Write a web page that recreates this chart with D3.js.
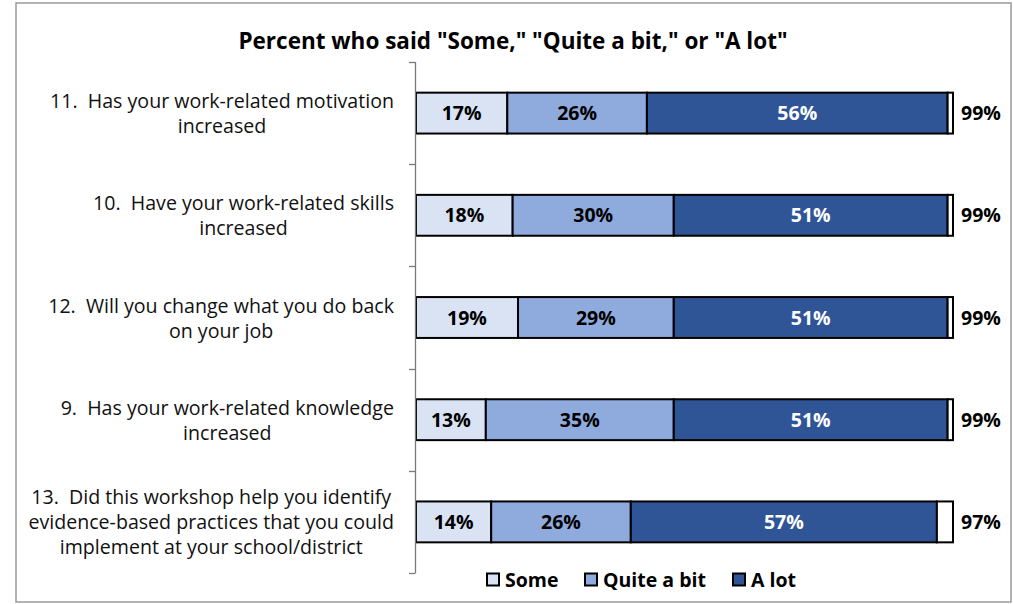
<!DOCTYPE html>
<html>
<head>
<meta charset="utf-8">
<script src="https://cdn.jsdelivr.net/npm/d3@7"></script>
<style>
  html, body { margin: 0; padding: 0; background: #fff; }
  svg { display: block; font-family: "Open Sans", "Noto Sans", sans-serif; }
  text { white-space: pre; }
</style>
</head>
<body>
<svg id="chart" width="1013" height="604"></svg>
<script>
// Survey items, top to bottom
const categories = [
  ["11.  Has your work-related motivation", "increased"],
  ["10.  Have your work-related skills", "increased"],
  ["12.  Will you change what you do back", "on your job"],
  ["9.  Has your work-related knowledge", "increased"],
  ["13.  Did this workshop help you identify", "evidence-based practices that you could", "implement at your school/district"]
];
const seriesNames = ["Some", "Quite a bit", "A lot"];
const someValues = [17, 18, 19, 13, 14];
const quiteValues = [26, 30, 29, 35, 26];
const alotValues = [56, 51, 51, 51, 57];
const totalValues = [99, 99, 99, 99, 97];

const colors = ["#DAE3F3", "#8FAADC", "#2F5597"];
const labelColors = ["#000", "#000", "#fff"];

const svg = d3.select("#chart");

// outer frame
svg.append("rect")
  .attr("x", 16).attr("y", 3).attr("width", 995).attr("height", 599)
  .attr("fill", "#fff").attr("stroke", "#9a9a9a").attr("stroke-width", 1.5);

// title
svg.append("text")
  .attr("x", 513).attr("y", 49)
  .attr("text-anchor", "middle")
  .attr("font-weight", "bold").attr("font-size", 22.5)
  .text('Percent who said "Some," "Quite a bit," or "A lot"');

const x = d3.scaleLinear().domain([0, 100]).range([416, 953]);
const y = d3.scaleBand().domain(d3.range(categories.length)).range([62, 573]).paddingInner(0.6).paddingOuter(0.3);
const band = d3.scaleBand().domain(d3.range(categories.length)).range([62, 573]);

// stacked rows including the remainder to 100%
const rows = categories.map((c, i) => ({
  i,
  vals: [someValues[i], quiteValues[i], alotValues[i], 100 - totalValues[i]],
  total: totalValues[i]
}));

const g = svg.append("g");
rows.forEach(r => {
  let acc = 0;
  r.vals.forEach((v, k) => {
    const x0 = acc; acc += v;
    g.append("rect")
      .attr("x", x(x0)).attr("y", y(r.i))
      .attr("width", x(acc) - x(x0)).attr("height", y.bandwidth())
      .attr("fill", k < 3 ? colors[k] : "#fff")
      .attr("stroke", "#000").attr("stroke-width", 2);
    if (k < 3) {
      g.append("text")
        .attr("x", (x(x0) + x(acc)) / 2)
        .attr("y", y(r.i) + y.bandwidth() / 2)
        .attr("dy", "0.36em")
        .attr("text-anchor", "middle")
        .attr("font-weight", "bold").attr("font-size", 19.5)
        .attr("fill", labelColors[k])
        .text(v + "%");
    }
  });
  g.append("text")
    .attr("x", x(100) + 8)
    .attr("y", y(r.i) + y.bandwidth() / 2)
    .attr("dy", "0.36em")
    .attr("font-weight", "bold").attr("font-size", 19.5)
    .text(r.total + "%");
});

// category axis
const axis = svg.append("g");
axis.append("line")
  .attr("x1", 415.5).attr("x2", 415.5).attr("y1", 62).attr("y2", 573)
  .attr("stroke", "#7a7a7a").attr("stroke-width", 1.3);
d3.range(categories.length + 1).forEach(k => {
  const ty = Math.round(62 + k * band.step()) + 0.5;
  axis.append("line")
    .attr("x1", 409).attr("x2", 415.5).attr("y1", ty).attr("y2", ty)
    .attr("stroke", "#7a7a7a").attr("stroke-width", 1.3);
});

// category labels, each block centered on its widest line
const lineH = 25;
categories.forEach((lines, i) => {
  const t = svg.append("text")
    .attr("font-size", 19.6).attr("fill", "#111")
    .attr("text-anchor", "middle");
  const cy = band(i) + band.bandwidth() / 2 + 1;
  const first = cy - (lines.length - 1) * lineH / 2 + 6.5;
  const spans = lines.map((s, j) => t.append("tspan").attr("y", first + j * lineH).text(s));
  const maxW = d3.max(spans, sp => sp.node().getComputedTextLength());
  spans.forEach(sp => sp.attr("x", 394 - maxW / 2));
});

// legend
const legendX = [486, 584, 732];
seriesNames.forEach((name, k) => {
  svg.append("rect")
    .attr("x", legendX[k] + 1).attr("y", 573.5).attr("width", 12).attr("height", 12)
    .attr("fill", colors[k]).attr("stroke", "#000").attr("stroke-width", 2);
  svg.append("text")
    .attr("x", legendX[k] + 19).attr("y", 579.5).attr("dy", "0.36em")
    .attr("font-weight", "bold").attr("font-size", 19.5)
    .text(name);
});
</script>
</body>
</html>
